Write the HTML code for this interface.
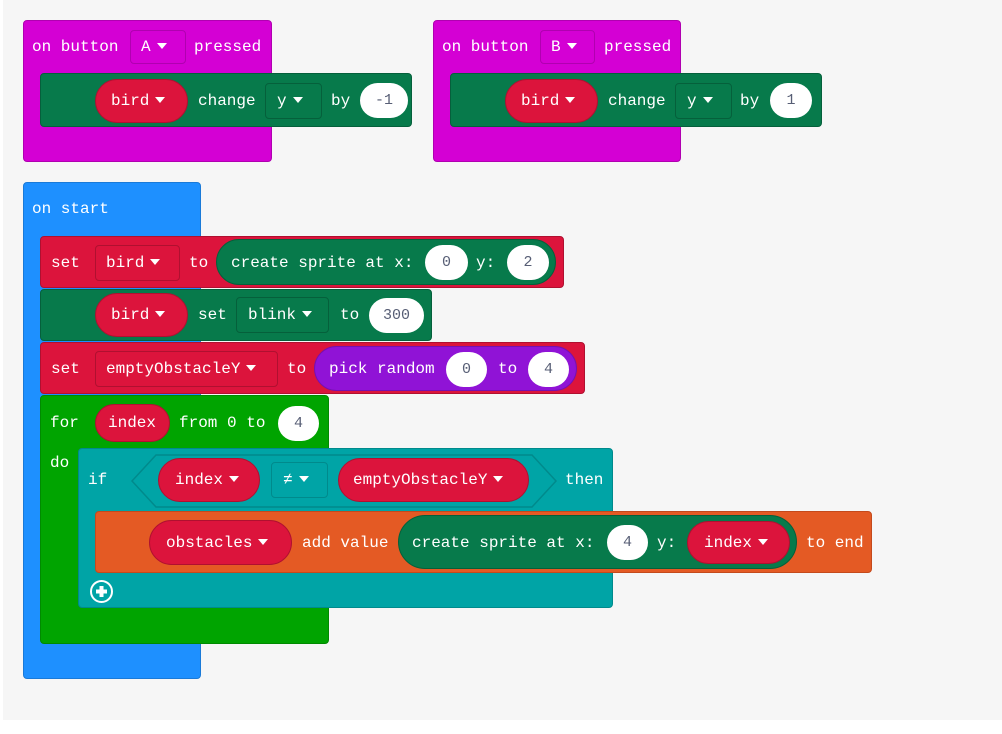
<!DOCTYPE html>
<html><head><meta charset="utf-8"><style>
html,body{margin:0;padding:0;}
body{width:1002px;height:734px;background:#fff;position:relative;overflow:hidden;font-family:"Liberation Mono","DejaVu Sans Mono",monospace;}
#bg{position:absolute;left:3px;top:0;width:999px;height:720px;background:#f6f6f6;}
.b{position:absolute;border-radius:4px;box-sizing:border-box;}
.p{position:absolute;border-radius:24px;box-sizing:border-box;}
.t{position:absolute;color:#fff;font-size:16px;line-height:20px;white-space:nowrap;}
.o{position:absolute;background:#fff;border-radius:18px;color:#575e75;font-size:15px;text-align:center;line-height:35px;height:35px;}
.dd{position:absolute;border-radius:4px;box-sizing:border-box;}
.tri{display:inline-block;width:0;height:0;border-left:5px solid transparent;border-right:5px solid transparent;border-top:6px solid #fff;vertical-align:middle;margin-left:6px;position:relative;top:-1px;}
</style></head><body>
<div id="bg"></div>

<!-- button A -->
<div class="b" style="left:23px;top:20px;width:249px;height:142px;background:#d400d4;border:1px solid #b000b0"></div>
<div class="t" style="left:32px;top:37px">on button</div>
<div class="dd" style="left:130px;top:30px;width:56px;height:34px;border:1px solid #b000b0"></div>
<div class="t" style="left:141px;top:37px">A<span class="tri"></span></div>
<div class="t" style="left:194px;top:37px">pressed</div>
<div class="b" style="left:40px;top:73px;width:372px;height:54px;background:#077a4b;border:1px solid #05603b"></div>
<div class="p" style="left:95px;top:79px;width:93px;height:44px;background:#dc143c;border:1px solid #b01030"></div>
<div class="t" style="left:111px;top:91px">bird<span class="tri"></span></div>
<div class="t" style="left:198px;top:91px">change</div>
<div class="dd" style="left:265px;top:83px;width:57px;height:36px;border:1px solid #05603b"></div>
<div class="t" style="left:277px;top:91px">y<span class="tri"></span></div>
<div class="t" style="left:331px;top:91px">by</div>
<div class="o" style="left:360px;top:83px;width:48px">-1</div>

<!-- button B -->
<div class="b" style="left:433px;top:20px;width:248px;height:142px;background:#d400d4;border:1px solid #b000b0"></div>
<div class="t" style="left:442px;top:37px">on button</div>
<div class="dd" style="left:540px;top:30px;width:55px;height:34px;border:1px solid #b000b0"></div>
<div class="t" style="left:551px;top:37px">B<span class="tri"></span></div>
<div class="t" style="left:604px;top:37px">pressed</div>
<div class="b" style="left:450px;top:73px;width:372px;height:54px;background:#077a4b;border:1px solid #05603b"></div>
<div class="p" style="left:505px;top:79px;width:93px;height:44px;background:#dc143c;border:1px solid #b01030"></div>
<div class="t" style="left:521px;top:91px">bird<span class="tri"></span></div>
<div class="t" style="left:608px;top:91px">change</div>
<div class="dd" style="left:675px;top:83px;width:57px;height:36px;border:1px solid #05603b"></div>
<div class="t" style="left:687px;top:91px">y<span class="tri"></span></div>
<div class="t" style="left:740px;top:91px">by</div>
<div class="o" style="left:770px;top:83px;width:42px">1</div>

<!-- on start -->
<div class="b" style="left:23px;top:182px;width:178px;height:497px;background:#1e90ff;border:1px solid #1a7ad8"></div>
<div class="t" style="left:32px;top:199px">on start</div>

<!-- set bird -->
<div class="b" style="left:40px;top:236px;width:524px;height:52px;background:#dc143c;border:1px solid #b01030"></div>
<div class="t" style="left:51px;top:253px">set</div>
<div class="dd" style="left:95px;top:245px;width:85px;height:36px;border:1px solid #b01030"></div>
<div class="t" style="left:106px;top:253px">bird<span class="tri"></span></div>
<div class="t" style="left:189px;top:253px">to</div>
<div class="p" style="left:216px;top:239px;width:340px;height:46px;background:#077a4b;border:1px solid #05603b"></div>
<div class="t" style="left:231px;top:253px">create sprite at x:</div>
<div class="o" style="left:425px;top:245px;width:43px">0</div>
<div class="t" style="left:476px;top:253px">y:</div>
<div class="o" style="left:507px;top:245px;width:42px">2</div>

<!-- bird blink -->
<div class="b" style="left:40px;top:289px;width:392px;height:52px;background:#077a4b;border:1px solid #05603b"></div>
<div class="p" style="left:95px;top:293px;width:93px;height:44px;background:#dc143c;border:1px solid #b01030"></div>
<div class="t" style="left:111px;top:305px">bird<span class="tri"></span></div>
<div class="t" style="left:198px;top:305px">set</div>
<div class="dd" style="left:236px;top:297px;width:93px;height:36px;border:1px solid #05603b"></div>
<div class="t" style="left:248px;top:305px">blink<span class="tri"></span></div>
<div class="t" style="left:340px;top:305px">to</div>
<div class="o" style="left:369px;top:298px;width:55px">300</div>

<!-- set emptyObstacleY -->
<div class="b" style="left:40px;top:342px;width:545px;height:52px;background:#dc143c;border:1px solid #b01030"></div>
<div class="t" style="left:51px;top:359px">set</div>
<div class="dd" style="left:95px;top:351px;width:183px;height:36px;border:1px solid #b01030"></div>
<div class="t" style="left:106px;top:359px">emptyObstacleY<span class="tri"></span></div>
<div class="t" style="left:287px;top:359px">to</div>
<div class="p" style="left:314px;top:346px;width:263px;height:45px;background:#9013d6;border:1px solid #7510b0"></div>
<div class="t" style="left:329px;top:359px">pick random</div>
<div class="o" style="left:446px;top:352px;width:41px">0</div>
<div class="t" style="left:498px;top:359px">to</div>
<div class="o" style="left:528px;top:352px;width:41px">4</div>

<!-- for loop -->
<div class="b" style="left:40px;top:395px;width:289px;height:249px;background:#00a400;border:1px solid #008a00"></div>
<div class="t" style="left:50px;top:413px">for</div>
<div class="p" style="left:95px;top:404px;width:75px;height:38px;background:#dc143c;border:1px solid #b01030"></div>
<div class="t" style="left:108px;top:413px">index</div>
<div class="t" style="left:179px;top:413px">from 0 to</div>
<div class="o" style="left:278px;top:406px;width:41px">4</div>
<div class="t" style="left:50px;top:453px">do</div>

<!-- if -->
<div class="b" style="left:78px;top:448px;width:535px;height:160px;background:#00a4a6;border:1px solid #008a8c"></div>
<div class="t" style="left:88px;top:470px">if</div>
<svg style="position:absolute;left:130px;top:454px" width="428" height="54"><polygon points="2,27 26,1 402,1 426,27 402,53 26,53" fill="#00a4a6" stroke="#008a8c" stroke-width="1.5"/></svg>
<div class="p" style="left:158px;top:458px;width:102px;height:44px;background:#dc143c;border:1px solid #b01030"></div>
<div class="t" style="left:175px;top:470px">index<span class="tri"></span></div>
<div class="dd" style="left:271px;top:462px;width:57px;height:36px;border:1px solid #008a8c"></div>
<div class="t" style="left:283px;top:470px">≠<span class="tri"></span></div>
<div class="p" style="left:338px;top:458px;width:191px;height:44px;background:#dc143c;border:1px solid #b01030"></div>
<div class="t" style="left:353px;top:470px">emptyObstacleY<span class="tri"></span></div>
<div class="t" style="left:565px;top:470px">then</div>

<!-- obstacles add -->
<div class="b" style="left:95px;top:511px;width:777px;height:62px;background:#e45a24;border:1px solid #c44a1c"></div>
<div class="p" style="left:149px;top:520px;width:143px;height:45px;background:#dc143c;border:1px solid #b01030"></div>
<div class="t" style="left:166px;top:533px">obstacles<span class="tri"></span></div>
<div class="t" style="left:302px;top:533px">add value</div>
<div class="p" style="left:398px;top:515px;width:399px;height:54px;border-radius:27px;background:#077a4b;border:1px solid #05603b"></div>
<div class="t" style="left:412px;top:533px">create sprite at x:</div>
<div class="o" style="left:607px;top:525px;width:41px">4</div>
<div class="t" style="left:657px;top:533px">y:</div>
<div class="p" style="left:687px;top:521px;width:103px;height:43px;background:#dc143c;border:1px solid #b01030"></div>
<div class="t" style="left:704px;top:533px">index<span class="tri"></span></div>
<div class="t" style="left:806px;top:533px">to end</div>

<!-- plus -->
<svg style="position:absolute;left:89px;top:579px" width="25" height="25"><circle cx="12.5" cy="12.5" r="10.5" fill="none" stroke="#fff" stroke-width="2"/><rect x="7" y="10.5" width="11" height="4" fill="#fff"/><rect x="10.5" y="7" width="4" height="11" fill="#fff"/></svg>
</body></html>
